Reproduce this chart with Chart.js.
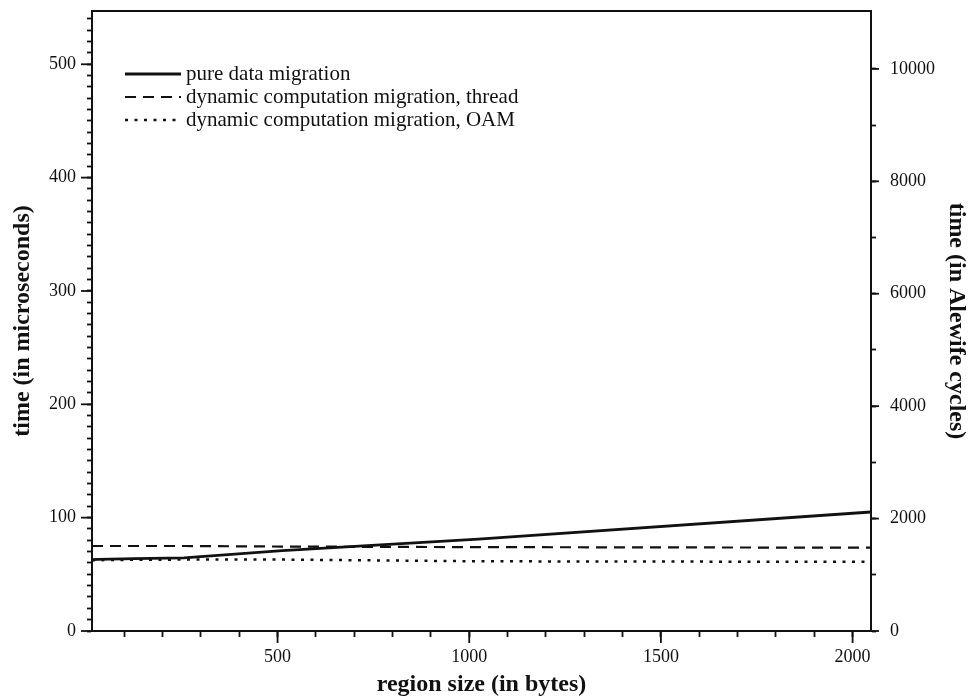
<!DOCTYPE html>
<html>
<head>
<meta charset="utf-8">
<script src="https://cdn.jsdelivr.net/npm/chart.js@4"></script>
<style>
  html, body { margin: 0; padding: 0; background: #fff; }
  #chart { display: block; }
</style>
</head>
<body>
<canvas id="chart" width="973" height="700"></canvas>
<script>
// region size (bytes) and measured times (microseconds)
const regionSizes = [16, 32, 64, 128, 256, 512, 1024, 2048];
const pureData = [63, 63.2, 63.4, 63.8, 64.5, 71, 81, 105];
const dynThread = [75, 75, 75, 75, 75, 74.5, 74, 73.5];
const dynOAM = [62.5, 62.5, 62.6, 62.8, 63, 63, 61.5, 61];

const seriesNames = [
  "pure data migration",
  "dynamic computation migration, thread",
  "dynamic computation migration, OAM",
];

// labelled (major) ticks; the rest are minor ticks
const xLabels = [500, 1000, 1500, 2000];
const yLabels = [0, 100, 200, 300, 400, 500];
const y2Ticks = [0, 1000, 2000, 3000, 4000, 5000, 6000, 7000, 8000, 9000, 10000];
const y2Labels = [0, 2000, 4000, 6000, 8000, 10000];

const SERIF = "'Liberation Serif', 'DejaVu Serif', serif";
const INK = "#111";

// top frame line, longer major ticks, legend inside the plot
const framePlugin = {
  id: "frame",
  afterDraw(chart) {
    const { ctx, chartArea: a, scales } = chart;
    ctx.save();
    ctx.strokeStyle = INK;
    ctx.lineWidth = 2;
    ctx.beginPath();
    ctx.moveTo(a.left - 1, a.top);
    ctx.lineTo(a.right + 1, a.top);
    ctx.stroke();

    ctx.lineWidth = 1.8;
    const major = (scale, labels, len) => {
      labels.forEach((v) => {
        const p = scale.getPixelForValue(v);
        ctx.beginPath();
        if (scale.position === "bottom") {
          ctx.moveTo(p, scale.top);
          ctx.lineTo(p, scale.top + len);
        } else if (scale.position === "left") {
          ctx.moveTo(scale.right, p);
          ctx.lineTo(scale.right - len, p);
        } else {
          ctx.moveTo(scale.left, p);
          ctx.lineTo(scale.left + len, p);
        }
        ctx.stroke();
      });
    };
    major(scales.x, xLabels, 12);
    major(scales.y, yLabels, 11);
    major(scales.y2, y2Labels, 8);

    // legend
    ctx.font = "21px " + SERIF;
    ctx.textBaseline = "middle";
    ctx.fillStyle = INK;
    chart.data.datasets.forEach((ds, i) => {
      const y = a.top + 63 + i * 23;
      const x0 = a.left + 33;
      ctx.strokeStyle = INK;
      ctx.lineWidth = ds.borderWidth;
      ctx.setLineDash(ds.borderDash || []);
      ctx.beginPath();
      ctx.moveTo(x0, y);
      ctx.lineTo(x0 + 56, y);
      ctx.stroke();
      ctx.setLineDash([]);
      ctx.fillText(ds.label, x0 + 61, y);
    });
    ctx.restore();
  },
};

const tickFont = { family: SERIF, size: 18 };
const titleFont = { family: SERIF, size: 24, weight: "bold", lineHeight: 1.2 };

const noPadY = (w) => (s) => { s.width = w; s.paddingTop = 0; s.paddingBottom = 0; };

new Chart(document.getElementById("chart").getContext("2d"), {
  type: "line",
  data: {
    datasets: [
      {
        label: seriesNames[0],
        data: regionSizes.map((x, i) => ({ x, y: pureData[i] })),
        borderColor: INK,
        borderWidth: 2.8,
      },
      {
        label: seriesNames[1],
        data: regionSizes.map((x, i) => ({ x, y: dynThread[i] })),
        borderColor: INK,
        borderWidth: 2.2,
        borderDash: [11, 7],
      },
      {
        label: seriesNames[2],
        data: regionSizes.map((x, i) => ({ x, y: dynOAM[i] })),
        borderColor: INK,
        borderWidth: 2.5,
        borderDash: [3, 6.5],
      },
    ],
  },
  options: {
    responsive: false,
    animation: false,
    events: [],
    layout: { padding: { top: 11, left: 0, right: 0, bottom: 0 } },
    elements: { point: { radius: 0 }, line: { tension: 0, fill: false } },
    plugins: { legend: { display: false }, tooltip: { enabled: false } },
    scales: {
      x: {
        type: "linear",
        position: "bottom",
        min: 16,
        max: 2048,
        afterFit: (s) => { s.height = 69; s.paddingLeft = 0; s.paddingRight = 0; },
        border: { color: INK, width: 2 },
        grid: { drawOnChartArea: false, tickLength: 6, tickColor: INK, tickWidth: 1.8 },
        ticks: {
          stepSize: 100,
          includeBounds: false,
          autoSkip: false,
          maxRotation: 0,
          padding: 9,
          color: INK,
          font: tickFont,
          callback: (v) => (xLabels.includes(v) ? String(v) : ""),
        },
        title: {
          display: true,
          text: "region size (in bytes)",
          color: INK,
          font: titleFont,
          padding: { top: 0, bottom: 1 },
        },
      },
      y: {
        type: "linear",
        position: "left",
        min: 0,
        max: 547,
        afterFit: noPadY(92),
        border: { color: INK, width: 2 },
        grid: { drawOnChartArea: false, tickLength: 5, tickColor: INK, tickWidth: 1.8 },
        ticks: {
          stepSize: 10,
          includeBounds: false,
          autoSkip: false,
          padding: 11,
          color: INK,
          font: tickFont,
          callback: (v) => (yLabels.includes(v) ? String(v) : ""),
        },
        title: {
          display: true,
          text: "time (in microseconds)",
          color: INK,
          font: titleFont,
          padding: { top: 8, bottom: 0 },
        },
      },
      y2: {
        type: "linear",
        position: "right",
        min: 0,
        max: 11030,
        afterFit: noPadY(102),
        afterBuildTicks: (s) => { s.ticks = y2Ticks.map((v) => ({ value: v })); },
        border: { color: INK, width: 2 },
        grid: { drawOnChartArea: false, tickLength: 5, tickColor: INK, tickWidth: 1.8 },
        ticks: {
          autoSkip: false,
          padding: 14,
          color: INK,
          font: tickFont,
          callback: (v) => (y2Labels.includes(v) ? String(v) : ""),
        },
        title: {
          display: true,
          text: "time (in Alewife cycles)",
          color: INK,
          font: titleFont,
          padding: { top: 2, bottom: 0 },
        },
      },
    },
  },
  plugins: [framePlugin],
});
</script>
</body>
</html>
